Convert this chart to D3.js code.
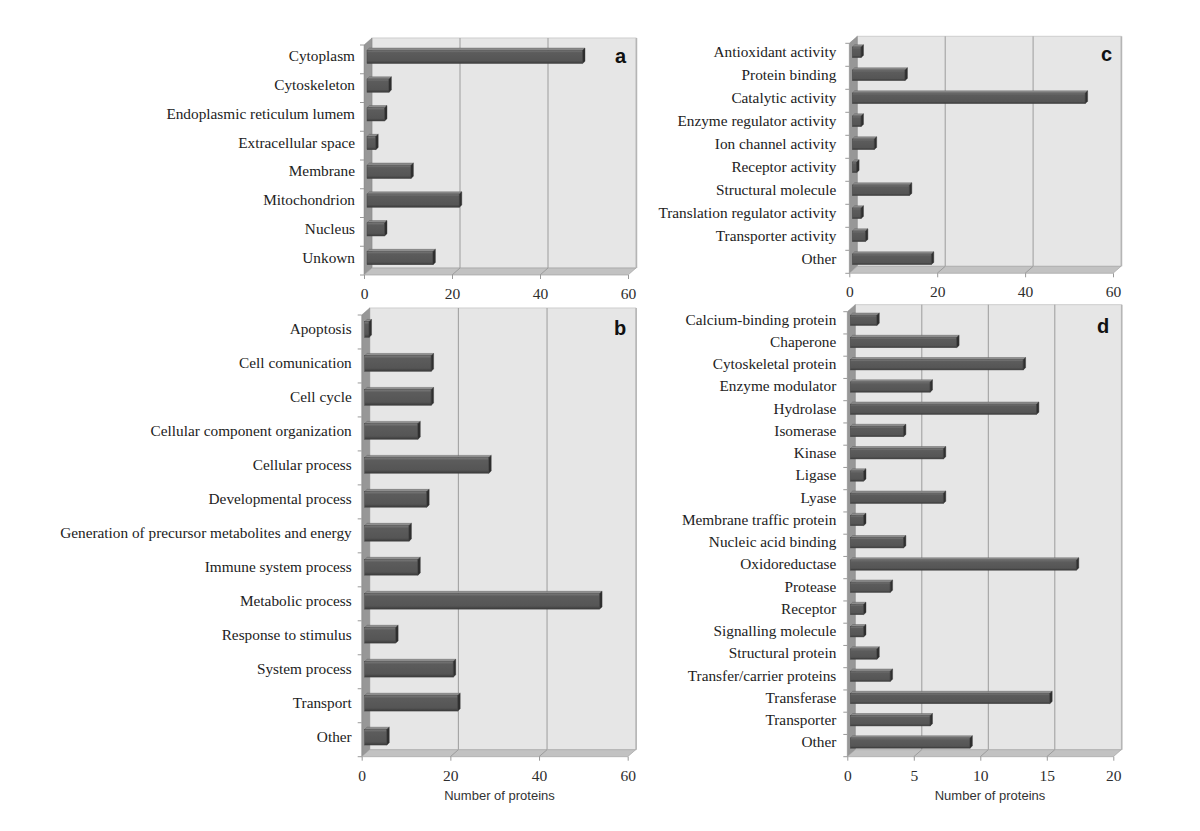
<!DOCTYPE html>
<html>
<head>
  <meta charset="utf-8">
  <title>Protein classification</title>
  <script src="https://d3js.org/d3.v7.min.js"></script>
  <style>
    body { margin: 0; background: white; }
  </style>
</head>
<body>
  <div id="graphContainer"></div>
  <script>
    // a - cellular component
    var compCats = ["Cytoplasm", "Cytoskeleton", "Endoplasmic reticulum lumem", "Extracellular space",
      "Membrane", "Mitochondrion", "Nucleus", "Unkown"];
    var compVals = [49, 5, 4, 2, 10, 21, 4, 15];

    // b - biological process
    var procCats = ["Apoptosis", "Cell comunication", "Cell cycle", "Cellular component organization",
      "Cellular process", "Developmental process", "Generation of precursor metabolites and energy",
      "Immune system process", "Metabolic process", "Response to stimulus", "System process",
      "Transport", "Other"];
    var procVals = [1, 15, 15, 12, 28, 14, 10, 12, 53, 7, 20, 21, 5];

    // c - molecular function
    var funcCats = ["Antioxidant activity", "Protein binding", "Catalytic activity", "Enzyme regulator activity",
      "Ion channel activity", "Receptor activity", "Structural molecule", "Translation regulator activity",
      "Transporter activity", "Other"];
    var funcVals = [2, 12, 53, 2, 5, 1, 13, 2, 3, 18];

    // d - protein class
    var classCats = ["Calcium-binding protein", "Chaperone", "Cytoskeletal protein", "Enzyme modulator",
      "Hydrolase", "Isomerase", "Kinase", "Ligase", "Lyase", "Membrane traffic protein",
      "Nucleic acid binding", "Oxidoreductase", "Protease", "Receptor", "Signalling molecule",
      "Structural protein", "Transfer/carrier proteins", "Transferase", "Transporter", "Other"];
    var classVals = [2, 8, 13, 6, 14, 4, 7, 1, 7, 1, 4, 17, 3, 1, 1, 2, 3, 15, 6, 9];

    var ticks60 = [0, 20, 40, 60];
    var ticks20 = [0, 5, 10, 15, 20];
    var axisTitle = "Number of proteins";

    var width = 1200, height = 831;
    var dx = 8, dy = -7;       // depth of the 3d box
    var cdx = 2.4, cdy = -2.2; // depth of a bar

    var svg = d3.select("#graphContainer").append("svg")
      .attr("width", width)
      .attr("height", height);

    var defs = svg.append("defs");
    var grad = defs.append("linearGradient").attr("id", "barFront")
      .attr("x1", 0).attr("y1", 0).attr("x2", 0).attr("y2", 1);
    grad.append("stop").attr("offset", "0%").attr("stop-color", "#7a7a7a");
    grad.append("stop").attr("offset", "18%").attr("stop-color", "#5c5c5c");
    grad.append("stop").attr("offset", "80%").attr("stop-color", "#555555");
    grad.append("stop").attr("offset", "100%").attr("stop-color", "#3a3a3a");

    function drawPanel(p) {
      var g = svg.append("g");
      var x = d3.scaleLinear().domain([0, p.ticks[p.ticks.length - 1]]).range([p.x0, p.x1]);
      var y = d3.scaleBand().domain(p.cats).range([p.y0, p.y1]).padding(0);
      var x1 = x.range()[1];

      // back wall
      g.append("rect")
        .attr("x", p.x0 + dx).attr("y", p.y0 + dy)
        .attr("width", x1 - p.x0).attr("height", p.y1 - p.y0)
        .attr("fill", "#e6e6e6").attr("stroke", "#cdcdcd");
      g.append("line")
        .attr("x1", x1 + dx + 0.5).attr("x2", x1 + dx + 0.5)
        .attr("y1", p.y0 + dy).attr("y2", p.y1 + dy)
        .attr("stroke", "#b5b5b5").attr("stroke-width", 1.5);

      // gridlines on back wall
      g.selectAll(".grid").data(p.ticks.slice(1, -1)).join("line")
        .attr("x1", d => x(d) + dx).attr("x2", d => x(d) + dx)
        .attr("y1", p.y0 + dy).attr("y2", p.y1 + dy)
        .attr("stroke", "#9c9c9c").attr("stroke-width", 1);

      // left wall
      g.append("path")
        .attr("d", "M" + p.x0 + "," + p.y0 + "L" + (p.x0 + dx) + "," + (p.y0 + dy) +
          "L" + (p.x0 + dx) + "," + (p.y1 + dy) + "L" + p.x0 + "," + p.y1 + "Z")
        .attr("fill", "#979797").attr("stroke", "#858585").attr("stroke-width", 0.5);

      // floor
      g.append("path")
        .attr("d", "M" + p.x0 + "," + p.y1 + "L" + (p.x0 + dx) + "," + (p.y1 + dy) +
          "L" + (x1 + dx) + "," + (p.y1 + dy) + "L" + x1 + "," + p.y1 + "Z")
        .attr("fill", "#c2c2c2").attr("stroke", "#a5a5a5").attr("stroke-width", 0.7);
      g.selectAll(".floorgrid").data(p.ticks.slice(1, -1)).join("line")
        .attr("x1", d => x(d)).attr("x2", d => x(d) + dx)
        .attr("y1", p.y1).attr("y2", p.y1 + dy)
        .attr("stroke", "#9c9c9c");

      // category ticks on left
      g.selectAll(".ltick").data(d3.range(p.cats.length + 1)).join("line")
        .attr("x1", p.x0 - 4).attr("x2", p.x0)
        .attr("y1", i => p.y0 + i * y.step()).attr("y2", i => p.y0 + i * y.step())
        .attr("stroke", "#9a9a9a");

      // bars
      var h = y.bandwidth() * 0.46;
      var bars = g.selectAll(".bar").data(p.vals).join("g");
      bars.each(function (v, i) {
        var b = d3.select(this);
        var bx0 = p.x0 + 3;
        var bx1 = bx0 + x(v) - x(0);
        var yc = y(p.cats[i]) + y.bandwidth() / 2 - 2.5;
        var top = yc - h / 2, bot = yc + h / 2;
        b.append("path")
          .attr("d", "M" + bx0 + "," + top + "L" + (bx0 + cdx) + "," + (top + cdy) +
            "L" + (bx1 + cdx) + "," + (top + cdy) + "L" + bx1 + "," + top + "Z")
          .attr("fill", "#8e8e8e").attr("stroke", "#555").attr("stroke-width", 0.4);
        b.append("rect")
          .attr("x", bx0).attr("y", top)
          .attr("width", bx1 - bx0).attr("height", h)
          .attr("fill", "url(#barFront)").attr("stroke", "#444").attr("stroke-width", 0.5);
        b.append("path")
          .attr("d", "M" + bx1 + "," + top + "L" + (bx1 + cdx) + "," + (top + cdy) +
            "L" + (bx1 + cdx) + "," + (bot + cdy) + "L" + bx1 + "," + bot + "Z")
          .attr("fill", "#2f2f2f").attr("stroke", "#333").attr("stroke-width", 0.4);
      });

      // x axis
      var ax = g.append("g")
        .attr("transform", "translate(0," + p.y1 + ")")
        .call(d3.axisBottom(x).tickValues(p.ticks).tickSize(4).tickPadding(9));
      ax.select(".domain").remove();
      ax.selectAll("line").attr("stroke", "#999");
      ax.selectAll("text")
        .attr("font-family", "'Liberation Serif', serif")
        .attr("font-size", 15.5).attr("fill", "#2e2e2e");

      // category labels
      var ay = g.append("g")
        .attr("transform", "translate(" + p.x0 + ",-3)")
        .call(d3.axisLeft(y).tickSize(0).tickPadding(p.gap));
      ay.select(".domain").remove();
      ay.selectAll("text")
        .attr("font-family", "'Liberation Serif', serif")
        .attr("font-size", 15.3).attr("fill", "#222");

      // panel letter
      g.append("text")
        .attr("x", p.lx).attr("y", p.ly)
        .attr("text-anchor", "middle").attr("dominant-baseline", "central")
        .attr("font-family", "'Liberation Sans', Arial, sans-serif")
        .attr("font-weight", "bold").attr("font-size", 20).attr("fill", "#111")
        .text(p.letter);

      if (p.title) {
        g.append("text")
          .attr("x", p.tx).attr("y", p.y1 + 43)
          .attr("text-anchor", "middle")
          .attr("font-family", "'Liberation Sans', Arial, sans-serif")
          .attr("font-size", 13).attr("fill", "#333")
          .text(axisTitle);
      }
    }

    drawPanel({ cats: compCats, vals: compVals, ticks: ticks60, x0: 364, x1: 628, y0: 45, y1: 275,
      gap: 9, letter: "a", lx: 620.5, ly: 56 });
    drawPanel({ cats: funcCats, vals: funcVals, ticks: ticks60, x0: 849.3, x1: 1113, y0: 43.3, y1: 273.3,
      gap: 13, letter: "c", lx: 1106.5, ly: 54 });
    drawPanel({ cats: procCats, vals: procVals, ticks: ticks60, x0: 361.7, x1: 627.7, y0: 315, y1: 756.7,
      gap: 10, letter: "b", lx: 620, ly: 327.5, title: true, tx: 499.5 });
    drawPanel({ cats: classCats, vals: classVals, ticks: ticks20, x0: 847.3, x1: 1113.3, y0: 311.7, y1: 756.7,
      gap: 11, letter: "d", lx: 1103, ly: 325.5, title: true, tx: 990 });
  </script>
</body>
</html>
